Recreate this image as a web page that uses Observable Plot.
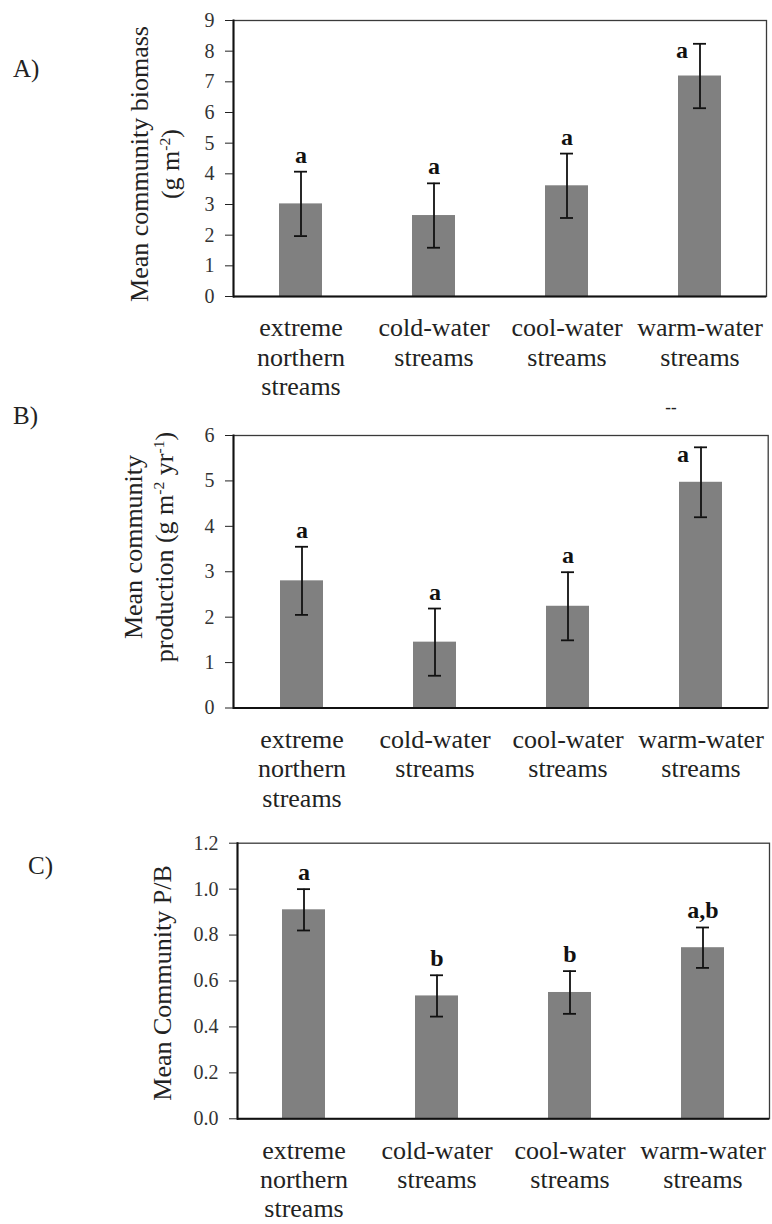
<!DOCTYPE html>
<html>
<head>
<meta charset="utf-8">
<script src="https://cdn.jsdelivr.net/npm/d3@7"></script>
<script src="https://cdn.jsdelivr.net/npm/@observablehq/plot@0.6"></script>
<style>
  html, body { margin: 0; padding: 0; background: #fff; }
  #root {
    position: relative; width: 772px; height: 1224px; background: #fff;
    font-family: "Liberation Serif", "Times New Roman", serif; color: #222;
  }
  .panel { position: absolute; left: 0; }
  .panel text { font-family: "Liberation Serif", "Times New Roman", serif !important; }
  .ytitle {
    position: absolute; white-space: nowrap; text-align: center;
    font-size: 26px; line-height: 31px;
    transform: translate(-50%, -50%) rotate(-90deg);
  }
  .ytitle sup { font-size: 0.6em; line-height: 0; vertical-align: 0.6em; }
  .tag { position: absolute; font-size: 25px; line-height: 1; }
  .stray { position: absolute; font-size: 17px; font-weight: bold; line-height: 1; transform: translate(-50%, -50%); }
</style>
</head>
<body>
<div id="root">
  <div class="tag" style="left:13px; top:56px;">A)</div>
  <div class="tag" style="left:13px; top:403px;">B)</div>
  <div class="tag" style="left:28px; top:853px;">C)</div>
  <div class="ytitle" style="left:155px; top:164px;">Mean community biomass<br>(g m<sup>-2</sup>)</div>
  <div class="ytitle" style="left:149px; top:547px;">Mean community<br>production (g m<sup>-2</sup> yr<sup>-1</sup>)</div>
  <div class="ytitle" style="left:162px; top:983px;">Mean Community P/B</div>
  <div class="stray" style="left:671px; top:407px;">--</div>
</div>
<script>
// Stream thermal classes (x categories) and their wrapped axis labels
const categories = ["extreme northern streams", "cold-water streams", "cool-water streams", "warm-water streams"];
const categoryLabels = ["extreme\nnorthern\nstreams", "cold-water\nstreams", "cool-water\nstreams", "warm-water\nstreams"];

// A) mean community biomass (g m-2) with error and significance letters
const biomass = [3.02, 2.64, 3.61, 7.19];
const biomassErr = [1.05, 1.05, 1.05, 1.05];
const biomassLetters = ["a", "a", "a", "a"];
const biomassTicks = [0, 1, 2, 3, 4, 5, 6, 7, 8, 9];

// B) mean community production (g m-2 yr-1)
const production = [2.80, 1.45, 2.24, 4.97];
const productionErr = [0.75, 0.74, 0.75, 0.77];
const productionLetters = ["a", "a", "a", "a"];
const productionTicks = [0, 1, 2, 3, 4, 5, 6];

// C) mean community P/B ratio
const pb = [0.91, 0.535, 0.55, 0.745];
const pbErr = [0.09, 0.09, 0.093, 0.088];
const pbLetters = ["a", "b", "b", "a,b"];
const pbTicks = [0, 0.2, 0.4, 0.6, 0.8, 1.0, 1.2];

const FONT = '"Liberation Serif", "Times New Roman", serif';

function panel({values, errs, letters, ticks, format, top, height, margin}) {
  const rows = categories.map((c, i) => ({
    cat: c, value: values[i], lo: values[i] - errs[i], hi: values[i] + errs[i], letter: letters[i]
  }));
  const yMax = ticks[ticks.length - 1];
  // letters that would run into the top of the frame sit beside the cap instead
  const crowded = d => (yMax - d.hi) / yMax < 0.1;
  const chart = Plot.plot({
    width: 772,
    height,
    marginTop: margin.top,
    marginBottom: margin.bottom,
    marginLeft: margin.left,
    marginRight: margin.right,
    style: {fontFamily: FONT, color: "#222", background: "transparent", overflow: "visible"},
    x: {domain: categories, paddingInner: 0.68, paddingOuter: 0.34, align: 0.5, label: null},
    y: {domain: [0, yMax], label: null},
    marks: [
      Plot.barY(rows, {x: "cat", y: "value", fill: "#808080"}),
      Plot.ruleX(rows, {x: "cat", y1: "lo", y2: "hi", stroke: "#111", strokeWidth: 1.8}),
      Plot.tickY(rows, {x: "cat", y: "hi", stroke: "#111", strokeWidth: 1.8, insetLeft: 15, insetRight: 15}),
      Plot.tickY(rows, {x: "cat", y: "lo", stroke: "#111", strokeWidth: 1.8, insetLeft: 15, insetRight: 15}),
      Plot.text(rows.filter(d => !crowded(d)), {
        x: "cat", y: "hi", text: "letter", lineAnchor: "bottom", dy: -9,
        fontSize: 24, fontWeight: "bold", fill: "#111"
      }),
      Plot.text(rows.filter(crowded), {
        x: "cat", y: "hi", text: "letter", textAnchor: "end", lineAnchor: "middle", dx: -12, dy: 7,
        fontSize: 24, fontWeight: "bold", fill: "#111"
      }),
      Plot.frame({stroke: "#3a3a3a", strokeWidth: 1.3}),
      Plot.frame({anchor: "left", stroke: "#111", strokeWidth: 2}),
      Plot.ruleY([0], {stroke: "#111", strokeWidth: 2}),
      Plot.axisY({
        ticks, tickFormat: format, tickSize: 8, tickPadding: 11,
        fontSize: 20, fill: "#333", label: null
      }),
      Plot.axisX({
        tickSize: 0, tickPadding: 19, fontSize: 26, fill: "#222",
        lineHeight: 1.13, label: null,
        tickFormat: d => categoryLabels[categories.indexOf(d)]
      })
    ]
  });
  chart.classList.add("panel");
  chart.style.top = top + "px";
  chart.style.position = "absolute";
  // serif face on every label in the panel
  d3.select(chart).selectAll("text, g").style("font-family", FONT);
  document.getElementById("root").appendChild(chart);
}

panel({
  values: biomass, errs: biomassErr, letters: biomassLetters, ticks: biomassTicks,
  format: d3.format("d"), top: 0, height: 400,
  margin: {top: 20, bottom: 104, left: 233, right: 6}
});
panel({
  values: production, errs: productionErr, letters: productionLetters, ticks: productionTicks,
  format: d3.format("d"), top: 400, height: 400,
  margin: {top: 35, bottom: 92.5, left: 233, right: 4.3}
});
panel({
  values: pb, errs: pbErr, letters: pbLetters, ticks: pbTicks,
  format: d3.format(".1f"), top: 800, height: 424,
  margin: {top: 42.7, bottom: 105.7, left: 237, right: 3}
});
</script>
</body>
</html>
